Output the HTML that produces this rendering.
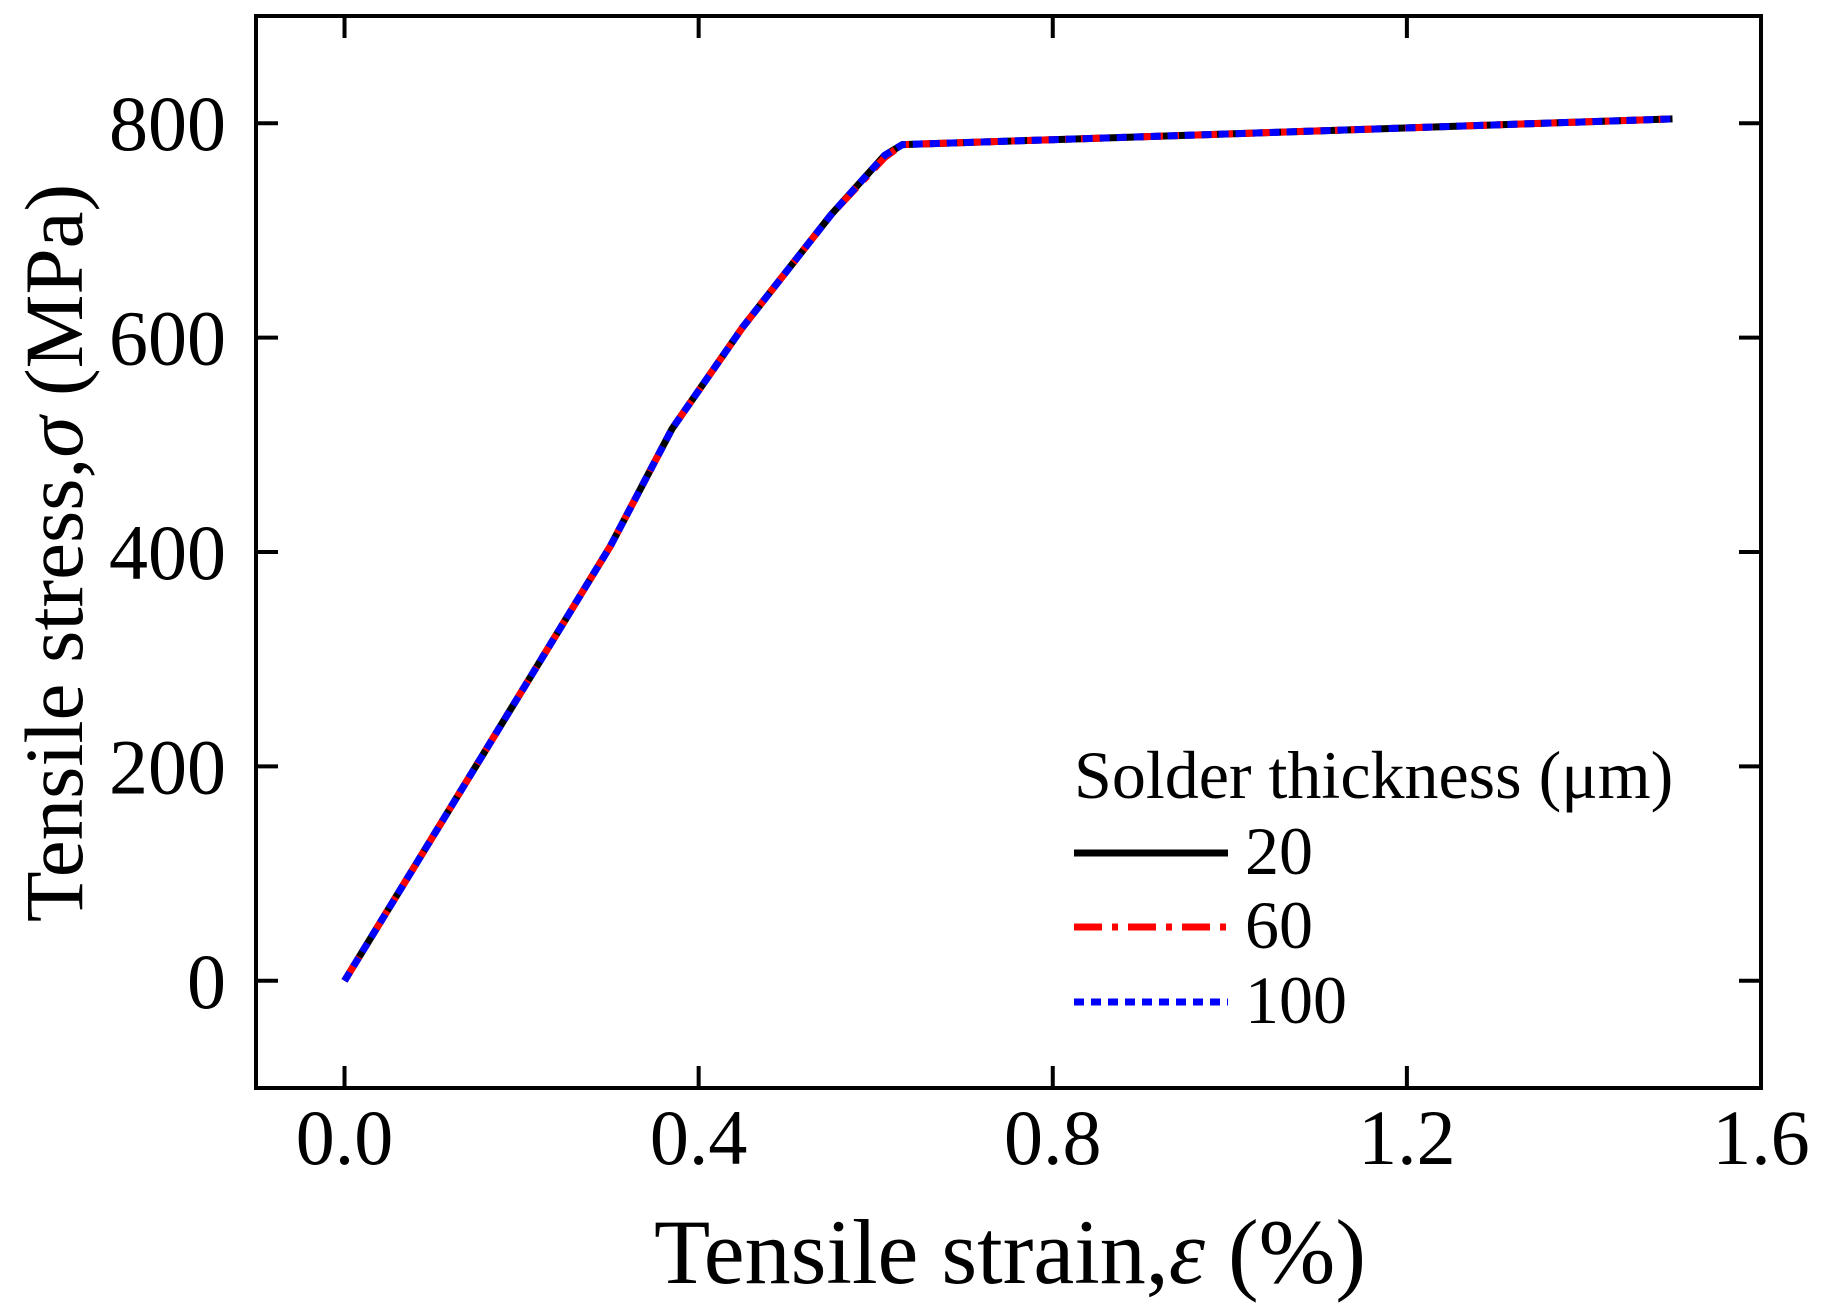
<!DOCTYPE html>
<html><head><meta charset="utf-8"><style>
body{margin:0;background:#fff}
svg{display:block;font-family:"Liberation Serif",serif}
</style></head><body>
<svg width="1824" height="1309" viewBox="0 0 1824 1309">
<g id="ticks"></g>
<g id="series"></g>
<rect x="256" y="16" width="1505" height="1072" fill="none" stroke="#000" stroke-width="4"/>
<text x="1010" y="1283" font-size="92" text-anchor="middle">Tensile strain,<tspan font-style="italic">ε</tspan> (%)</text>
<text transform="translate(82,553) rotate(-90)" font-size="83" text-anchor="middle">Tensile stress,<tspan font-style="italic">σ</tspan> (MPa)</text>
<g>
<text x="1074" y="798" font-size="68">Solder thickness (μm)</text>
<line x1="1074" x2="1228" y1="853" y2="853" stroke="#000" stroke-width="7"/>
<text x="1245" y="874" font-size="68">20</text>
<line x1="1074" x2="1228" y1="927" y2="927" stroke="#f00" stroke-width="7" stroke-dasharray="28,10,6,10"/>
<text x="1245" y="948" font-size="68">60</text>
<line x1="1074" x2="1228" y1="1002" y2="1002" stroke="#00f" stroke-width="7" stroke-dasharray="10,7"/>
<text x="1245" y="1023" font-size="68">100</text>
</g>
</svg>
<script>
const xTicks=[0.0,0.4,0.8,1.2,1.6];
const xTickLabels=["0.0","0.4","0.8","1.2","1.6"];
const yTicks=[0,200,400,600,800];
const yTickLabels=["0","200","400","600","800"];
const strain=[0,0.1,0.2,0.3,0.37,0.45,0.55,0.61,0.63,1.0,1.5];
const stress20=[0,135,270,405,515,610,715,770,780,790,804];
const stress60=[0,135,270,405,515,610,715,768,780,790,804];
const stress100=[0,135,270,405,515,610,715,770,780,790,804];
const NS="http://www.w3.org/2000/svg";
const L=256,R=1761,T=16,B=1088,xmin=-0.1,xmax=1.6,ymin=-100,ymax=900;
const X=v=>L+(v-xmin)/(xmax-xmin)*(R-L);
const Y=v=>B-(v-ymin)/(ymax-ymin)*(B-T);
const tg=document.getElementById('ticks');
function mk(tag,attrs,parent){const e=document.createElementNS(NS,tag);for(const k in attrs)e.setAttribute(k,attrs[k]);parent.appendChild(e);return e;}
xTicks.forEach((v,i)=>{
 const x=X(v);
 let a=mk('line',{x1:x,x2:x,y1:B,y2:B-22,stroke:'#000','stroke-width':4},tg);
 
 
 let b=mk('line',{x1:x,x2:x,y1:T,y2:T+22,stroke:'#000','stroke-width':4},tg);
 
 
 let t=mk('text',{x:x,y:1164,'font-size':78,'text-anchor':'middle'},tg);
 t.textContent=xTickLabels[i];
 
 
});
yTicks.forEach((v,i)=>{
 const y=Y(v);
 let a=mk('line',{x1:L,x2:L+22,y1:y,y2:y,stroke:'#000','stroke-width':4},tg);
 
 
 let b=mk('line',{x1:R,x2:R-22,y1:y,y2:y,stroke:'#000','stroke-width':4},tg);
 
 
 let t=mk('text',{x:226,y:y+27,'font-size':78,'text-anchor':'end'},tg);
 t.textContent=yTickLabels[i];
 
 
});
const sg=document.getElementById('series');
const series=[[stress20,'#000','none','series-20'],[stress60,'#f00','28,10,6,10','series-60'],[stress100,'#00f','10,7','series-100']];
series.forEach(s=>{
 const d=strain.map((v,i)=>(i?'L':'M')+X(v).toFixed(1)+','+Y(s[0][i]).toFixed(1)).join(' ');
 const p=mk('path',{d:d,fill:'none',stroke:s[1],'stroke-width':7,'stroke-dasharray':s[2],'stroke-linejoin':'round'},sg);
 
 
});
</script>
</body></html>
